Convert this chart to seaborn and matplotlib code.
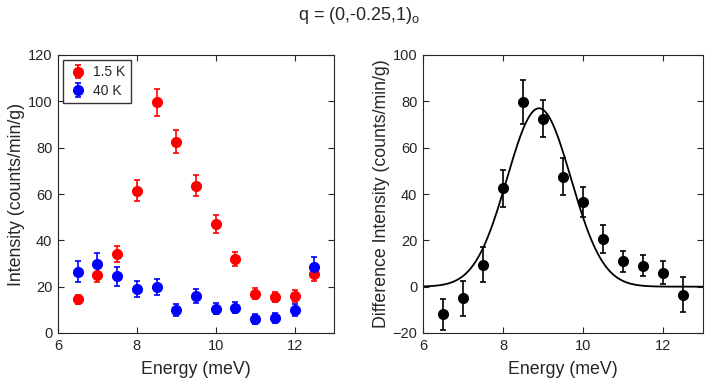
import numpy as np
import pandas as pd
import matplotlib
matplotlib.use("Agg")
import matplotlib.pyplot as plt
import seaborn as sns

# data
energy = [6.5, 7.0, 7.5, 8.0, 8.5, 9.0, 9.5, 10.0, 10.5, 11.0, 11.5, 12.0, 12.5]

low_t = [14.5, 25.0, 34.0, 61.5, 99.5, 82.5, 63.5, 47.0, 32.0, 17.0, 15.5, 16.0, 25.5]
low_t_err = [2.0, 3.0, 3.5, 4.5, 6.0, 5.0, 4.5, 4.0, 3.0, 2.5, 2.0, 2.5, 3.0]

high_t = [26.5, 30.0, 24.5, 19.0, 20.0, 10.0, 16.0, 10.5, 11.0, 6.0, 6.5, 10.0, 28.5]
high_t_err = [4.5, 4.5, 4.0, 3.5, 3.5, 2.5, 3.0, 2.5, 2.5, 2.0, 2.0, 2.5, 4.5]

diff = [-12.0, -5.0, 9.5, 42.5, 79.5, 72.5, 47.5, 36.5, 20.5, 11.0, 9.0, 6.0, -3.5]
diff_err = [6.5, 7.5, 7.5, 8.0, 9.5, 8.0, 8.0, 6.5, 6.0, 4.5, 4.5, 5.0, 7.5]

# gaussian fit parameters for the difference curve
fit_amp = 77.0
fit_center = 8.9
fit_sigma = 0.8

sns.set_theme(style="ticks")
plt.rcParams['font.family'] = ['Liberation Sans', 'DejaVu Sans']
plt.rcParams['mathtext.fontset'] = 'custom'
plt.rcParams['mathtext.rm'] = 'Liberation Sans'
plt.rcParams['mathtext.it'] = 'Liberation Sans'
gray = '#262626'

fig = plt.figure(figsize=(7.18, 3.85), dpi=100)
ax1 = fig.add_axes([58 / 718, 1 - 333 / 385, 276 / 718, 278 / 385])
ax2 = fig.add_axes([423 / 718, 1 - 333 / 385, 280 / 718, 278 / 385])


def style_axes(ax):
    ax.tick_params(direction='in', top=True, right=True, length=4, width=0.8,
                   labelsize=10.5, colors=gray, pad=4)
    for s in ax.spines.values():
        s.set_color(gray)
        s.set_linewidth(0.8)
    ax.set_xlabel('Energy (meV)', fontsize=12.8, color=gray, labelpad=6)


eb = dict(fmt='o', markersize=7, capsize=2, elinewidth=1.2, capthick=1.2)
ax1.errorbar(energy, low_t, yerr=low_t_err, color='#ff0000', label='1.5 K', **eb)
ax1.errorbar(energy, high_t, yerr=high_t_err, color='#0000ff', label='40 K', **eb)
ax1.set_xlim(6, 13)
ax1.set_ylim(0, 120)
ax1.set_xticks([6, 8, 10, 12])
ax1.set_yticks(range(0, 121, 20))
ax1.set_ylabel('Intensity (counts/min/g)', fontsize=12.8, color=gray, labelpad=2)
style_axes(ax1)
leg = ax1.legend(loc='upper left', fontsize=10, frameon=True, fancybox=False,
                 borderpad=0.4, handletextpad=0.4, handlelength=1.4,
                 borderaxespad=0.35, labelspacing=0.3)
leg.get_frame().set_edgecolor('black')
leg.get_frame().set_linewidth(1.0)

xfit = np.linspace(6, 13, 300)
yfit = fit_amp * np.exp(-(xfit - fit_center) ** 2 / (2 * fit_sigma ** 2))
sns.lineplot(x=xfit, y=yfit, ax=ax2, color='black', linewidth=1.3)
ax2.errorbar(energy, diff, yerr=diff_err, color='black', **eb)
ax2.set_xlim(6, 13)
ax2.set_ylim(-20, 100)
ax2.set_xticks([6, 8, 10, 12])
ax2.set_yticks(range(-20, 101, 20))
ax2.set_ylabel('Difference Intensity (counts/min/g)', fontsize=12.8, color=gray, labelpad=2)
style_axes(ax2)

fig.text(0.5, 1 - 16 / 385, r'q = (0,-0.25,1)$_\mathrm{o}$', ha='center', va='center',
         fontsize=13, color=gray)

fig.savefig('out.png', dpi=100)
